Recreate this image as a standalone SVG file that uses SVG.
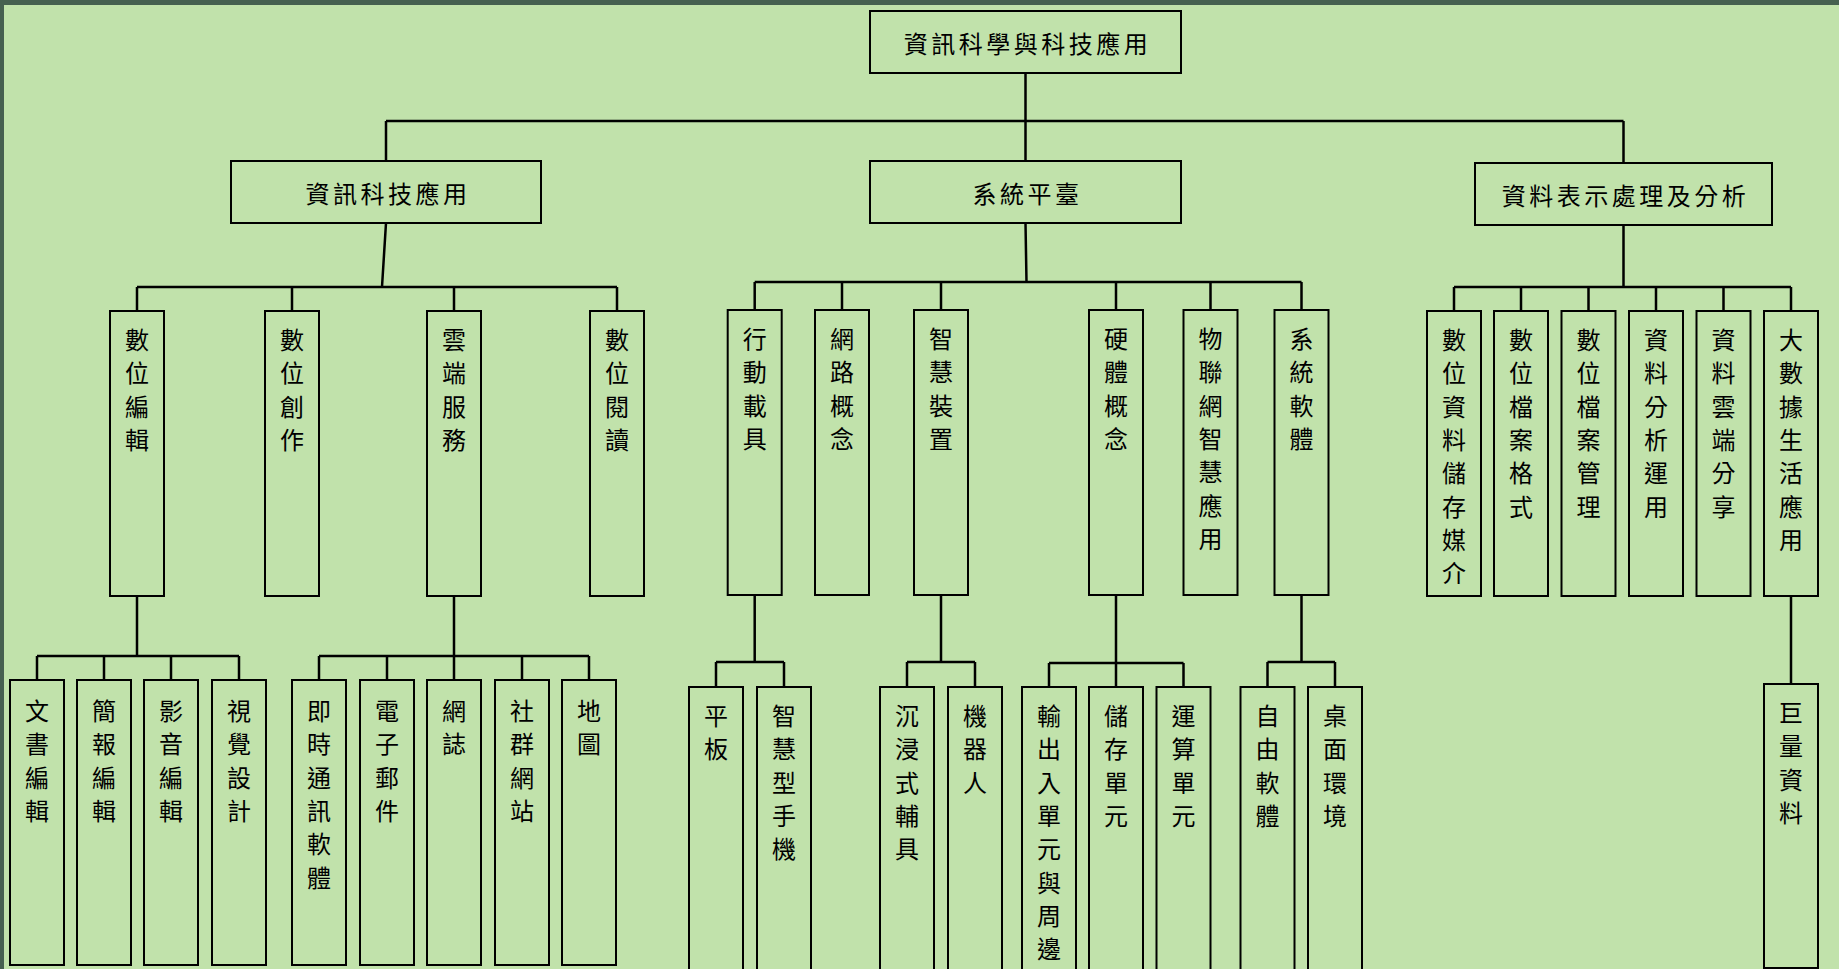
<svg xmlns="http://www.w3.org/2000/svg" width="1839" height="969" viewBox="0 0 1839 969">
<style>
.b{fill:#c1e2ab;stroke:#000;stroke-width:2}
.t{font-family:"Noto Sans CJK TC","Noto Sans CJK SC",sans-serif;font-size:24px;fill:#000;text-anchor:middle;dominant-baseline:central}
.h{letter-spacing:3.5px}
.c{fill:none;stroke:#000;stroke-width:2.5}
</style>
<rect x="0" y="0" width="1839" height="969" fill="#c1e2ab"/>
<rect x="0" y="0" width="1839" height="5" fill="#466050"/>
<rect x="0" y="0" width="4" height="969" fill="#466050"/>
<g id="connectors" class="c">
<path d="M1025.5 73V121M386 121H1623.5M386 121V161M1025.5 121V161M1623.5 121V163"/>
<path d="M386 223L382 287M137 287H617M137 287V311M292 287V311M454 287V311M617 287V311"/>
<path d="M1025.5 223L1026.5 282M754.7 282H1301.5M754.7 282V310M842 282V310M941 282V310M1116 282V310M1210.5 282V310M1301.5 282V310"/>
<path d="M1623.5 225V287M1454 287H1791M1454 287V311M1521 287V311M1588.5 287V311M1656 287V311M1723.5 287V311M1791 287V311"/>
<path d="M137 596V656M37 656H239M37 656V680M104 656V680M171 656V680M239 656V680"/>
<path d="M454 596V656M319 656H589M319 656V680M387 656V680M454 656V680M522 656V680M589 656V680"/>
<path d="M754.7 595V662M716 662H784M716 662V687M784 662V687"/>
<path d="M941 595V662M907 662H975M907 662V687M975 662V687"/>
<path d="M1116 595V663M1049 663H1183.5M1049 663V687M1116 663V687M1183.5 663V687"/>
<path d="M1301.5 595V662M1267.5 662H1335M1267.5 662V687M1335 662V687"/>
<path d="M1791 596V684"/>
</g>
<g id="root"><rect class="b" x="870" y="11" width="311" height="62"/><text class="t h" x="1027.5" y="42" font-size="25">資訊科學與科技應用</text></g>
<g id="ict"><rect class="b" x="231" y="161" width="310" height="62"/><text class="t h" x="388" y="192" font-size="25">資訊科技應用</text></g>
<g id="sys"><rect class="b" x="870" y="161" width="311" height="62"/><text class="t h" x="1027.5" y="192" font-size="25">系統平臺</text></g>
<g id="data"><rect class="b" x="1475" y="163" width="297" height="62"/><text class="t h" x="1625.5" y="194" font-size="25">資料表示處理及分析</text></g>

<g id="n1"><rect class="b" x="110" y="311" width="54" height="285"/><text class="t" x="137" y="338"><tspan x="137">數</tspan><tspan x="137" dy="33.3">位</tspan><tspan x="137" dy="33.3">編</tspan><tspan x="137" dy="33.3">輯</tspan></text></g>
<g id="n2"><rect class="b" x="265" y="311" width="54" height="285"/><text class="t" x="292" y="338"><tspan x="292">數</tspan><tspan x="292" dy="33.3">位</tspan><tspan x="292" dy="33.3">創</tspan><tspan x="292" dy="33.3">作</tspan></text></g>
<g id="n3"><rect class="b" x="427" y="311" width="54" height="285"/><text class="t" x="454" y="338"><tspan x="454">雲</tspan><tspan x="454" dy="33.3">端</tspan><tspan x="454" dy="33.3">服</tspan><tspan x="454" dy="33.3">務</tspan></text></g>
<g id="n4"><rect class="b" x="590" y="311" width="54" height="285"/><text class="t" x="617" y="338"><tspan x="617">數</tspan><tspan x="617" dy="33.3">位</tspan><tspan x="617" dy="33.3">閱</tspan><tspan x="617" dy="33.3">讀</tspan></text></g>

<g id="m1"><rect class="b" x="727.7" y="310" width="54" height="285"/><text class="t" x="754.7" y="337"><tspan x="754.7">行</tspan><tspan x="754.7" dy="33.3">動</tspan><tspan x="754.7" dy="33.3">載</tspan><tspan x="754.7" dy="33.3">具</tspan></text></g>
<g id="m2"><rect class="b" x="815" y="310" width="54" height="285"/><text class="t" x="842" y="337"><tspan x="842">網</tspan><tspan x="842" dy="33.3">路</tspan><tspan x="842" dy="33.3">概</tspan><tspan x="842" dy="33.3">念</tspan></text></g>
<g id="m3"><rect class="b" x="914" y="310" width="54" height="285"/><text class="t" x="941" y="337"><tspan x="941">智</tspan><tspan x="941" dy="33.3">慧</tspan><tspan x="941" dy="33.3">裝</tspan><tspan x="941" dy="33.3">置</tspan></text></g>
<g id="m4"><rect class="b" x="1089" y="310" width="54" height="285"/><text class="t" x="1116" y="337"><tspan x="1116">硬</tspan><tspan x="1116" dy="33.3">體</tspan><tspan x="1116" dy="33.3">概</tspan><tspan x="1116" dy="33.3">念</tspan></text></g>
<g id="m5"><rect class="b" x="1183.5" y="310" width="54" height="285"/><text class="t" x="1210.5" y="337"><tspan x="1210.5">物</tspan><tspan x="1210.5" dy="33.3">聯</tspan><tspan x="1210.5" dy="33.3">網</tspan><tspan x="1210.5" dy="33.3">智</tspan><tspan x="1210.5" dy="33.3">慧</tspan><tspan x="1210.5" dy="33.3">應</tspan><tspan x="1210.5" dy="33.3">用</tspan></text></g>
<g id="m6"><rect class="b" x="1274.5" y="310" width="54" height="285"/><text class="t" x="1301.5" y="337"><tspan x="1301.5">系</tspan><tspan x="1301.5" dy="33.3">統</tspan><tspan x="1301.5" dy="33.3">軟</tspan><tspan x="1301.5" dy="33.3">體</tspan></text></g>

<g id="r1"><rect class="b" x="1427" y="311" width="54" height="285"/><text class="t" x="1454" y="338"><tspan x="1454">數</tspan><tspan x="1454" dy="33.3">位</tspan><tspan x="1454" dy="33.3">資</tspan><tspan x="1454" dy="33.3">料</tspan><tspan x="1454" dy="33.3">儲</tspan><tspan x="1454" dy="33.3">存</tspan><tspan x="1454" dy="33.3">媒</tspan><tspan x="1454" dy="33.3">介</tspan></text></g>
<g id="r2"><rect class="b" x="1494" y="311" width="54" height="285"/><text class="t" x="1521" y="338"><tspan x="1521">數</tspan><tspan x="1521" dy="33.3">位</tspan><tspan x="1521" dy="33.3">檔</tspan><tspan x="1521" dy="33.3">案</tspan><tspan x="1521" dy="33.3">格</tspan><tspan x="1521" dy="33.3">式</tspan></text></g>
<g id="r3"><rect class="b" x="1561.5" y="311" width="54" height="285"/><text class="t" x="1588.5" y="338"><tspan x="1588.5">數</tspan><tspan x="1588.5" dy="33.3">位</tspan><tspan x="1588.5" dy="33.3">檔</tspan><tspan x="1588.5" dy="33.3">案</tspan><tspan x="1588.5" dy="33.3">管</tspan><tspan x="1588.5" dy="33.3">理</tspan></text></g>
<g id="r4"><rect class="b" x="1629" y="311" width="54" height="285"/><text class="t" x="1656" y="338"><tspan x="1656">資</tspan><tspan x="1656" dy="33.3">料</tspan><tspan x="1656" dy="33.3">分</tspan><tspan x="1656" dy="33.3">析</tspan><tspan x="1656" dy="33.3">運</tspan><tspan x="1656" dy="33.3">用</tspan></text></g>
<g id="r5"><rect class="b" x="1696.5" y="311" width="54" height="285"/><text class="t" x="1723.5" y="338"><tspan x="1723.5">資</tspan><tspan x="1723.5" dy="33.3">料</tspan><tspan x="1723.5" dy="33.3">雲</tspan><tspan x="1723.5" dy="33.3">端</tspan><tspan x="1723.5" dy="33.3">分</tspan><tspan x="1723.5" dy="33.3">享</tspan></text></g>
<g id="r6"><rect class="b" x="1764" y="311" width="54" height="285"/><text class="t" x="1791" y="338"><tspan x="1791">大</tspan><tspan x="1791" dy="33.3">數</tspan><tspan x="1791" dy="33.3">據</tspan><tspan x="1791" dy="33.3">生</tspan><tspan x="1791" dy="33.3">活</tspan><tspan x="1791" dy="33.3">應</tspan><tspan x="1791" dy="33.3">用</tspan></text></g>

<g id="a1"><rect class="b" x="10" y="680" width="54" height="285"/><text class="t" x="37" y="709"><tspan x="37">文</tspan><tspan x="37" dy="33.3">書</tspan><tspan x="37" dy="33.3">編</tspan><tspan x="37" dy="33.3">輯</tspan></text></g>
<g id="a2"><rect class="b" x="77" y="680" width="54" height="285"/><text class="t" x="104" y="709"><tspan x="104">簡</tspan><tspan x="104" dy="33.3">報</tspan><tspan x="104" dy="33.3">編</tspan><tspan x="104" dy="33.3">輯</tspan></text></g>
<g id="a3"><rect class="b" x="144" y="680" width="54" height="285"/><text class="t" x="171" y="709"><tspan x="171">影</tspan><tspan x="171" dy="33.3">音</tspan><tspan x="171" dy="33.3">編</tspan><tspan x="171" dy="33.3">輯</tspan></text></g>
<g id="a4"><rect class="b" x="212" y="680" width="54" height="285"/><text class="t" x="239" y="709"><tspan x="239">視</tspan><tspan x="239" dy="33.3">覺</tspan><tspan x="239" dy="33.3">設</tspan><tspan x="239" dy="33.3">計</tspan></text></g>
<g id="b1"><rect class="b" x="292" y="680" width="54" height="285"/><text class="t" x="319" y="709"><tspan x="319">即</tspan><tspan x="319" dy="33.3">時</tspan><tspan x="319" dy="33.3">通</tspan><tspan x="319" dy="33.3">訊</tspan><tspan x="319" dy="33.3">軟</tspan><tspan x="319" dy="33.3">體</tspan></text></g>
<g id="b2"><rect class="b" x="360" y="680" width="54" height="285"/><text class="t" x="387" y="709"><tspan x="387">電</tspan><tspan x="387" dy="33.3">子</tspan><tspan x="387" dy="33.3">郵</tspan><tspan x="387" dy="33.3">件</tspan></text></g>
<g id="b3"><rect class="b" x="427" y="680" width="54" height="285"/><text class="t" x="454" y="709"><tspan x="454">網</tspan><tspan x="454" dy="33.3">誌</tspan></text></g>
<g id="b4"><rect class="b" x="495" y="680" width="54" height="285"/><text class="t" x="522" y="709"><tspan x="522">社</tspan><tspan x="522" dy="33.3">群</tspan><tspan x="522" dy="33.3">網</tspan><tspan x="522" dy="33.3">站</tspan></text></g>
<g id="b5"><rect class="b" x="562" y="680" width="54" height="285"/><text class="t" x="589" y="709"><tspan x="589">地</tspan><tspan x="589" dy="33.3">圖</tspan></text></g>

<g id="c1"><rect class="b" x="689" y="687" width="54" height="295"/><text class="t" x="716" y="714"><tspan x="716">平</tspan><tspan x="716" dy="33.3">板</tspan></text></g>
<g id="c2"><rect class="b" x="757" y="687" width="54" height="295"/><text class="t" x="784" y="714"><tspan x="784">智</tspan><tspan x="784" dy="33.3">慧</tspan><tspan x="784" dy="33.3">型</tspan><tspan x="784" dy="33.3">手</tspan><tspan x="784" dy="33.3">機</tspan></text></g>
<g id="d1"><rect class="b" x="880" y="687" width="54" height="295"/><text class="t" x="907" y="714"><tspan x="907">沉</tspan><tspan x="907" dy="33.3">浸</tspan><tspan x="907" dy="33.3">式</tspan><tspan x="907" dy="33.3">輔</tspan><tspan x="907" dy="33.3">具</tspan></text></g>
<g id="d2"><rect class="b" x="948" y="687" width="54" height="295"/><text class="t" x="975" y="714"><tspan x="975">機</tspan><tspan x="975" dy="33.3">器</tspan><tspan x="975" dy="33.3">人</tspan></text></g>
<g id="e1"><rect class="b" x="1022" y="687" width="54" height="295"/><text class="t" x="1049" y="714"><tspan x="1049">輸</tspan><tspan x="1049" dy="33.3">出</tspan><tspan x="1049" dy="33.3">入</tspan><tspan x="1049" dy="33.3">單</tspan><tspan x="1049" dy="33.3">元</tspan><tspan x="1049" dy="33.3">與</tspan><tspan x="1049" dy="33.3">周</tspan><tspan x="1049" dy="33.3">邊</tspan></text></g>
<g id="e2"><rect class="b" x="1089" y="687" width="54" height="295"/><text class="t" x="1116" y="714"><tspan x="1116">儲</tspan><tspan x="1116" dy="33.3">存</tspan><tspan x="1116" dy="33.3">單</tspan><tspan x="1116" dy="33.3">元</tspan></text></g>
<g id="e3"><rect class="b" x="1156.5" y="687" width="54" height="295"/><text class="t" x="1183.5" y="714"><tspan x="1183.5">運</tspan><tspan x="1183.5" dy="33.3">算</tspan><tspan x="1183.5" dy="33.3">單</tspan><tspan x="1183.5" dy="33.3">元</tspan></text></g>
<g id="f1"><rect class="b" x="1240.5" y="687" width="54" height="295"/><text class="t" x="1267.5" y="714"><tspan x="1267.5">自</tspan><tspan x="1267.5" dy="33.3">由</tspan><tspan x="1267.5" dy="33.3">軟</tspan><tspan x="1267.5" dy="33.3">體</tspan></text></g>
<g id="f2"><rect class="b" x="1308" y="687" width="54" height="295"/><text class="t" x="1335" y="714"><tspan x="1335">桌</tspan><tspan x="1335" dy="33.3">面</tspan><tspan x="1335" dy="33.3">環</tspan><tspan x="1335" dy="33.3">境</tspan></text></g>
<g id="g1"><rect class="b" x="1764" y="684" width="54" height="284"/><text class="t" x="1791" y="711"><tspan x="1791">巨</tspan><tspan x="1791" dy="33.3">量</tspan><tspan x="1791" dy="33.3">資</tspan><tspan x="1791" dy="33.3">料</tspan></text></g>
</svg>
